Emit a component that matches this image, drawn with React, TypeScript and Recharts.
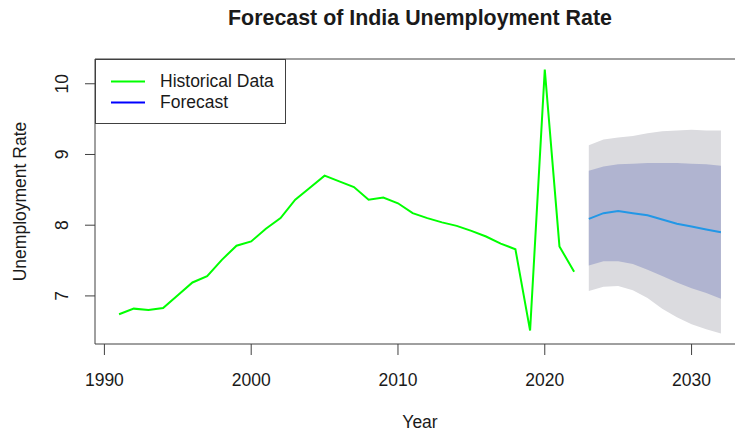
import React from 'react'
import {
  ComposedChart,
  Line,
  Area,
  XAxis,
  YAxis,
  ReferenceArea,
  Label,
} from 'recharts'

// observed unemployment rate, %
const HIST_YEARS = [
  1991, 1992, 1993, 1994, 1995, 1996, 1997, 1998, 1999, 2000, 2001, 2002, 2003, 2004, 2005, 2006,
  2007, 2008, 2009, 2010, 2011, 2012, 2013, 2014, 2015, 2016, 2017, 2018, 2019, 2020, 2021, 2022,
]
const HIST_RATE = [
  6.74, 6.82, 6.8, 6.83, 7.01, 7.19, 7.28, 7.51, 7.71, 7.77, 7.95, 8.1, 8.36, 8.53, 8.7, 8.62,
  8.54, 8.36, 8.39, 8.31, 8.17, 8.1, 8.04, 7.99, 7.92, 7.84, 7.74, 7.66, 6.51, 10.2, 7.7, 7.34,
]

// forecast horizon with 80% / 95% intervals
const FC_YEARS = [2023, 2024, 2025, 2026, 2027, 2028, 2029, 2030, 2031, 2032]
const FC_MEAN = [8.09, 8.17, 8.2, 8.17, 8.14, 8.08, 8.02, 7.98, 7.94, 7.9]
const FC_LO80 = [7.43, 7.49, 7.49, 7.45, 7.37, 7.28, 7.19, 7.11, 7.04, 6.96]
const FC_HI80 = [8.77, 8.83, 8.86, 8.87, 8.88, 8.88, 8.88, 8.87, 8.86, 8.84]
const FC_LO95 = [7.07, 7.13, 7.14, 7.08, 6.97, 6.82, 6.7, 6.6, 6.53, 6.47]
const FC_HI95 = [9.13, 9.21, 9.24, 9.26, 9.3, 9.33, 9.34, 9.35, 9.34, 9.34]

const X_TICKS = [1990, 2000, 2010, 2020, 2030]
const Y_TICKS = [7, 8, 9, 10]
const X_DOMAIN: [number, number] = [1989.36, 2033.64]
const Y_DOMAIN: [number, number] = [6.32, 10.35]

const LEGEND_ITEMS = [
  { label: 'Historical Data', color: '#00ff00' },
  { label: 'Forecast', color: '#0000ff' },
]

type Row = {
  year: number
  hist?: number
  mean?: number
  band80?: [number, number]
  band95?: [number, number]
}

const rows: Row[] = [
  ...HIST_YEARS.map((year, i) => ({ year, hist: HIST_RATE[i] })),
  ...FC_YEARS.map((year, i) => ({
    year,
    mean: FC_MEAN[i],
    band80: [FC_LO80[i], FC_HI80[i]] as [number, number],
    band95: [FC_LO95[i], FC_HI95[i]] as [number, number],
  })),
]

const FONT = '"Liberation Sans", Arial, Helvetica, sans-serif'
const INK = '#1a1a1a'
const FS = 17.5

function YTick({ x, y, payload }: any) {
  return (
    <text
      x={x}
      y={y}
      transform={`rotate(-90 ${x} ${y})`}
      textAnchor="middle"
      fontSize={FS}
      fontFamily={FONT}
      fill={INK}
    >
      {payload.value}
    </text>
  )
}

// legend sits in the top-left corner of the plot box
function LegendBox() {
  return (
    <div
      style={{
        position: 'absolute',
        left: 95,
        top: 59,
        width: 191,
        height: 65,
        border: '1px solid #404040',
        background: '#fff',
        boxSizing: 'border-box',
        paddingTop: 11,
      }}
    >
      {LEGEND_ITEMS.map((it) => (
        <div key={it.label} style={{ display: 'flex', alignItems: 'center', height: 21 }}>
          <svg width={64} height={21} style={{ display: 'block' }}>
            <line x1={15} x2={49} y1={10.5} y2={10.5} stroke={it.color} strokeWidth={2} />
          </svg>
          <span style={{ fontSize: FS, fontFamily: FONT, color: INK, lineHeight: '21px' }}>
            {it.label}
          </span>
        </div>
      ))}
    </div>
  )
}

export default function App() {
  return (
    <div
      style={{
        position: 'absolute',
        left: 0,
        top: 0,
        width: 735,
        height: 435,
        overflow: 'hidden',
        background: '#fff',
        fontFamily: FONT,
      }}
    >
      <div
        style={{
          position: 'absolute',
          left: 0,
          width: 840,
          top: 4,
          textAlign: 'center',
          fontWeight: 'bold',
          fontSize: 21.4,
          color: INK,
          lineHeight: '28px',
        }}
      >
        Forecast of India Unemployment Rate
      </div>
      <ComposedChart
        width={760}
        height={435}
        data={rows}
        margin={{ top: 59, right: 15, bottom: 0, left: 0 }}
      >
        <XAxis
          dataKey="year"
          type="number"
          domain={X_DOMAIN}
          ticks={X_TICKS}
          allowDataOverflow
          axisLine={false}
          tickSize={11}
          tickMargin={19}
          height={91}
          tickLine={{ stroke: '#404040' }}
          tick={{ fontSize: FS, fontFamily: FONT, fill: INK }}
        >
          <Label
            content={({ viewBox }: any) => (
              <text
                x={viewBox.x + viewBox.width / 2}
                y={428}
                textAnchor="middle"
                fontSize={FS}
                fontFamily={FONT}
                fill={INK}
              >
                Year
              </text>
            )}
          />
        </XAxis>
        <YAxis
          type="number"
          domain={Y_DOMAIN}
          ticks={Y_TICKS}
          allowDataOverflow
          axisLine={false}
          width={95}
          tickSize={10}
          tickMargin={17}
          tickLine={{ stroke: '#404040' }}
          tick={<YTick />}
        >
          <Label
            content={({ viewBox }: any) => {
              const cx = 25.5
              const cy = viewBox.y + viewBox.height / 2
              return (
                <text
                  x={cx}
                  y={cy}
                  transform={`rotate(-90 ${cx} ${cy})`}
                  textAnchor="middle"
                  fontSize={FS}
                  fontFamily={FONT}
                  fill={INK}
                >
                  Unemployment Rate
                </text>
              )
            }}
          />
        </YAxis>
        <Area
          dataKey="band95"
          type="linear"
          stroke="none"
          fill="#dbdbdf"
          fillOpacity={1}
          isAnimationActive={false}
          activeDot={false}
        />
        <Area
          dataKey="band80"
          type="linear"
          stroke="none"
          fill="#b0b4d0"
          fillOpacity={1}
          isAnimationActive={false}
          activeDot={false}
        />
        <Line
          dataKey="mean"
          type="linear"
          stroke="#2297e6"
          strokeWidth={2}
          dot={false}
          activeDot={false}
          isAnimationActive={false}
        />
        <Line
          dataKey="hist"
          type="linear"
          stroke="#00ff00"
          strokeWidth={2}
          dot={false}
          activeDot={false}
          isAnimationActive={false}
        />
        <ReferenceArea
          x1={X_DOMAIN[0]}
          x2={X_DOMAIN[1]}
          y1={Y_DOMAIN[0]}
          y2={Y_DOMAIN[1]}
          fill="none"
          stroke="#404040"
          strokeWidth={1}
          ifOverflow="visible"
        />
      </ComposedChart>
      <LegendBox />
    </div>
  )
}
